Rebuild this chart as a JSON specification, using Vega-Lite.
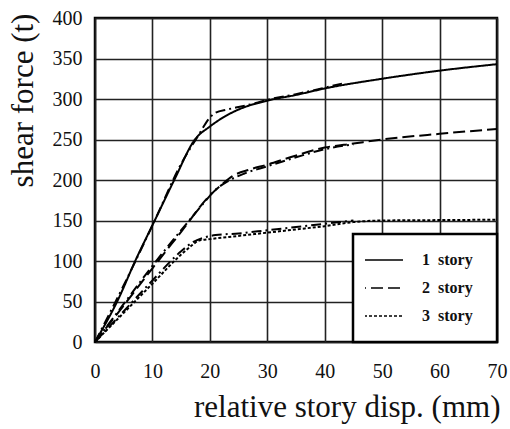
{
  "$schema": "https://vega.github.io/schema/vega-lite/v6.json",
  "width": 402,
  "height": 324,
  "autosize": {"type": "none"},
  "padding": {"left": 95, "top": 18, "right": 13, "bottom": 87},
  "background": "white",
  "config": {
    "font": "Liberation Serif",
    "view": {"stroke": "black", "strokeWidth": 2.5},
    "axis": {
      "gridColor": "#222",
      "gridWidth": 1.6,
      "gridOpacity": 1,
      "domain": false,
      "ticks": false,
      "tickSize": 0,
      "labelFont": "Liberation Serif",
      "labelFontSize": 20,
      "labelColor": "#111",
      "titleFont": "Liberation Serif",
      "titleFontSize": 31,
      "titleFontWeight": "normal",
      "titleColor": "#111"
    },
    "legend": {"strokeWidth": 2.5}
  },
  "data": {
    "values": [
      {"story": "1 story", "kind": "A", "x": 0, "y": 0},
      {"story": "1 story", "kind": "A", "x": 4, "y": 52},
      {"story": "1 story", "kind": "A", "x": 7, "y": 100},
      {"story": "1 story", "kind": "A", "x": 10.4, "y": 150},
      {"story": "1 story", "kind": "A", "x": 13.8, "y": 200},
      {"story": "1 story", "kind": "A", "x": 17.4, "y": 250},
      {"story": "1 story", "kind": "A", "x": 20, "y": 266},
      {"story": "1 story", "kind": "A", "x": 22.5, "y": 278},
      {"story": "1 story", "kind": "A", "x": 25, "y": 287},
      {"story": "1 story", "kind": "A", "x": 30, "y": 298},
      {"story": "1 story", "kind": "A", "x": 35, "y": 305},
      {"story": "1 story", "kind": "A", "x": 40, "y": 313},
      {"story": "1 story", "kind": "A", "x": 50, "y": 325},
      {"story": "1 story", "kind": "A", "x": 60, "y": 335},
      {"story": "1 story", "kind": "A", "x": 70, "y": 343},
      {"story": "1 story", "kind": "E", "x": 0, "y": 0},
      {"story": "1 story", "kind": "E", "x": 5, "y": 70},
      {"story": "1 story", "kind": "E", "x": 10.4, "y": 150},
      {"story": "1 story", "kind": "E", "x": 15, "y": 220},
      {"story": "1 story", "kind": "E", "x": 18, "y": 255},
      {"story": "1 story", "kind": "E", "x": 20, "y": 277},
      {"story": "1 story", "kind": "E", "x": 21, "y": 283},
      {"story": "1 story", "kind": "E", "x": 23, "y": 287},
      {"story": "1 story", "kind": "E", "x": 25, "y": 290},
      {"story": "1 story", "kind": "E", "x": 28, "y": 295},
      {"story": "1 story", "kind": "E", "x": 30, "y": 299},
      {"story": "1 story", "kind": "E", "x": 35, "y": 306},
      {"story": "1 story", "kind": "E", "x": 40, "y": 314},
      {"story": "1 story", "kind": "E", "x": 43, "y": 319},
      {"story": "2 story", "kind": "A", "x": 0, "y": 0},
      {"story": "2 story", "kind": "A", "x": 5, "y": 45},
      {"story": "2 story", "kind": "A", "x": 10, "y": 91},
      {"story": "2 story", "kind": "A", "x": 15, "y": 136},
      {"story": "2 story", "kind": "A", "x": 20, "y": 181},
      {"story": "2 story", "kind": "A", "x": 22, "y": 194},
      {"story": "2 story", "kind": "A", "x": 24, "y": 205},
      {"story": "2 story", "kind": "A", "x": 27, "y": 213},
      {"story": "2 story", "kind": "A", "x": 30, "y": 219},
      {"story": "2 story", "kind": "A", "x": 34, "y": 228},
      {"story": "2 story", "kind": "A", "x": 40, "y": 240},
      {"story": "2 story", "kind": "A", "x": 45, "y": 245},
      {"story": "2 story", "kind": "A", "x": 50, "y": 250},
      {"story": "2 story", "kind": "A", "x": 60, "y": 257},
      {"story": "2 story", "kind": "A", "x": 70, "y": 263},
      {"story": "2 story", "kind": "E", "x": 0, "y": 0},
      {"story": "2 story", "kind": "E", "x": 5, "y": 47},
      {"story": "2 story", "kind": "E", "x": 10, "y": 94},
      {"story": "2 story", "kind": "E", "x": 15, "y": 138},
      {"story": "2 story", "kind": "E", "x": 19, "y": 172},
      {"story": "2 story", "kind": "E", "x": 21, "y": 188},
      {"story": "2 story", "kind": "E", "x": 23, "y": 198},
      {"story": "2 story", "kind": "E", "x": 26, "y": 208},
      {"story": "2 story", "kind": "E", "x": 30, "y": 217},
      {"story": "2 story", "kind": "E", "x": 35, "y": 228},
      {"story": "2 story", "kind": "E", "x": 40, "y": 238},
      {"story": "2 story", "kind": "E", "x": 45, "y": 244},
      {"story": "3 story", "kind": "A", "x": 0, "y": 0},
      {"story": "3 story", "kind": "A", "x": 5, "y": 36},
      {"story": "3 story", "kind": "A", "x": 10, "y": 72},
      {"story": "3 story", "kind": "A", "x": 15, "y": 108},
      {"story": "3 story", "kind": "A", "x": 17, "y": 120},
      {"story": "3 story", "kind": "A", "x": 18, "y": 125},
      {"story": "3 story", "kind": "A", "x": 20, "y": 127},
      {"story": "3 story", "kind": "A", "x": 25, "y": 131},
      {"story": "3 story", "kind": "A", "x": 30, "y": 135},
      {"story": "3 story", "kind": "A", "x": 35, "y": 139},
      {"story": "3 story", "kind": "A", "x": 40, "y": 143},
      {"story": "3 story", "kind": "A", "x": 45, "y": 148},
      {"story": "3 story", "kind": "A", "x": 50, "y": 150},
      {"story": "3 story", "kind": "A", "x": 60, "y": 150.5},
      {"story": "3 story", "kind": "A", "x": 70, "y": 151},
      {"story": "3 story", "kind": "E", "x": 0, "y": 0},
      {"story": "3 story", "kind": "E", "x": 5, "y": 38},
      {"story": "3 story", "kind": "E", "x": 10, "y": 76},
      {"story": "3 story", "kind": "E", "x": 15, "y": 112},
      {"story": "3 story", "kind": "E", "x": 17, "y": 123},
      {"story": "3 story", "kind": "E", "x": 19, "y": 129},
      {"story": "3 story", "kind": "E", "x": 21, "y": 132},
      {"story": "3 story", "kind": "E", "x": 25, "y": 134},
      {"story": "3 story", "kind": "E", "x": 30, "y": 138},
      {"story": "3 story", "kind": "E", "x": 35, "y": 142},
      {"story": "3 story", "kind": "E", "x": 40, "y": 146},
      {"story": "3 story", "kind": "E", "x": 45, "y": 150}
    ]
  },
  "encoding": {
    "x": {
      "field": "x",
      "type": "quantitative",
      "scale": {"domain": [0, 70], "nice": false},
      "axis": {
        "values": [0, 10, 20, 30, 40, 50, 60, 70],
        "title": "relative story disp. (mm)",
        "labelPadding": 19,
        "labelFlush": false,
        "titleAnchor": "end",
        "titleAlign": "right",
        "titleX": 405,
        "titleY": 65,
        "titleBaseline": "middle"
      }
    },
    "y": {
      "field": "y",
      "type": "quantitative",
      "scale": {"domain": [0, 400], "nice": false},
      "axis": {
        "values": [0, 50, 100, 150, 200, 250, 300, 350, 400],
        "title": "shear force (t)",
        "labelPadding": 13,
        "labelFlush": false,
        "titleAngle": -90,
        "titleAlign": "center",
        "titleBaseline": "middle",
        "titleX": -72,
        "titleY": 82
      }
    }
  },
  "layer": [
    {
      "transform": [{"filter": "datum.kind === 'E'"}],
      "mark": {"type": "line", "color": "black", "strokeWidth": 2, "strokeDash": [10, 4, 2, 4], "interpolate": "monotone"},
      "encoding": {"detail": {"field": "story"}}
    },
    {
      "transform": [{"filter": "datum.kind === 'A'"}],
      "mark": {"type": "line", "color": "black", "strokeWidth": 2, "interpolate": "monotone"},
      "encoding": {
        "strokeDash": {
          "field": "story",
          "type": "nominal",
          "scale": {"domain": ["1 story", "2 story", "3 story"], "range": [[1, 0], [12, 5], [3, 2]]},
          "legend": {
            "title": null,
            "orient": "none",
            "legendX": 258,
            "legendY": 216,
            "fillColor": "white",
            "strokeColor": "black",
            "padding": 12,
            "clipHeight": 28,
            "symbolType": "stroke",
            "symbolSize": 2401,
            "symbolOffset": -12,
            "symbolStrokeWidth": 1.5,
            "symbolStrokeColor": "black",
            "labelFont": "Liberation Serif",
            "labelFontSize": 16,
            "labelFontWeight": "bold",
            "labelColor": "#111",
            "labelOffset": 18,
            "labelExpr": "replace(datum.label, ' ', '\u00a0\u00a0') + '\u00a0\u00a0\u00a0\u200b'",
            "rowPadding": 0
          }
        }
      }
    }
  ]
}
